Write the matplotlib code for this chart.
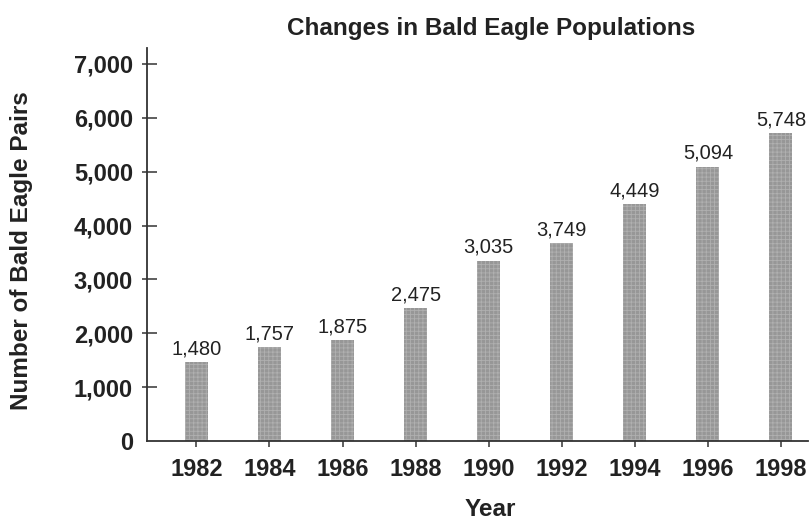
import matplotlib
matplotlib.use("Agg")
import matplotlib.pyplot as plt
from matplotlib.ticker import FuncFormatter, FixedLocator

# ---- data ----
years = [1982, 1984, 1986, 1988, 1990, 1992, 1994, 1996, 1998]
bar_heights = [1470, 1745, 1875, 2475, 3350, 3670, 4400, 5094, 5720]
value_labels = ["1,480", "1,757", "1,875", "2,475", "3,035", "3,749", "4,449", "5,094", "5,748"]
y_ticks = [0, 1000, 2000, 3000, 4000, 5000, 6000, 7000]
title = "Changes in Bald Eagle Populations"
xlabel = "Year"
ylabel = "Number of Bald Eagle Pairs"

W, H = 812, 522
fig = plt.figure(figsize=(W / 100, H / 100), dpi=100)
fig.patch.set_facecolor("white")

txt = "#222222"
bold_font = ["Liberation Sans", "DejaVu Sans"]

x0, x1 = 146.7, 808
y0, y1 = 441, 47.8
ax = fig.add_axes([x0 / W, 1 - y0 / H, (x1 - x0) / W, (y0 - y1) / H])

plt.rcParams['hatch.linewidth'] = 0.6
ax.bar(years, bar_heights, width=0.63, color="#979797", edgecolor="#b0b0b0",
       hatch="++++", linewidth=0, zorder=2)

for x, h, lab in zip(years, bar_heights, value_labels):
    ax.annotate(lab, (x, h), xytext=(0, 5.5), textcoords="offset points",
                ha="center", va="baseline", fontsize=14.5, color=txt,
                family=["Liberation Sans", "DejaVu Sans"])

ax.set_xlim(1980.64, 1998.74)
ax.set_ylim(0, 7300)

for s in ["top", "right"]:
    ax.spines[s].set_visible(False)
for s in ["left", "bottom"]:
    ax.spines[s].set_linewidth(1.3)
    ax.spines[s].set_color("#333333")

ax.set_xticks(years)
ax.set_xticklabels([str(y) for y in years])
ax.yaxis.set_major_locator(FixedLocator(y_ticks))
ax.yaxis.set_major_formatter(FuncFormatter(lambda v, p: "0" if v == 0 else f"{int(v):,}"))
ax.yaxis.set_minor_locator(FixedLocator(y_ticks[1:]))
ax.yaxis.remove_overlapping_locs = False

ax.tick_params(axis="y", which="major", direction="out", length=3.6, width=1.1,
               color="#333333", pad=6.3, labelsize=17, labelcolor=txt)
ax.tick_params(axis="y", which="minor", direction="in", length=7.2, width=1.1,
               color="#333333")
ax.tick_params(axis="x", which="major", direction="out", length=4.5, width=1.1,
               color="#333333", pad=7.5, labelsize=17, labelcolor=txt)

for lab in ax.get_xticklabels() + ax.get_yticklabels():
    lab.set_fontweight("bold")
    lab.set_family(bold_font)

fig.canvas.draw()
ax.yaxis.get_major_ticks()[0].tick1line.set_visible(False)

fig.text(491 / W, 1 - 28 / H, title, ha="center", va="center", fontsize=17.5,
         fontweight="bold", color=txt, family=bold_font)
fig.text(490 / W, 1 - 510 / H, xlabel, ha="center", va="center", fontsize=17.5,
         fontweight="bold", color=txt, family=bold_font)
fig.text(22 / W, 1 - 251 / H, ylabel, ha="center", va="center", rotation=90,
         fontsize=17.5, fontweight="bold", color=txt, family=bold_font)

fig.savefig("out.png", dpi=100, facecolor="white")
